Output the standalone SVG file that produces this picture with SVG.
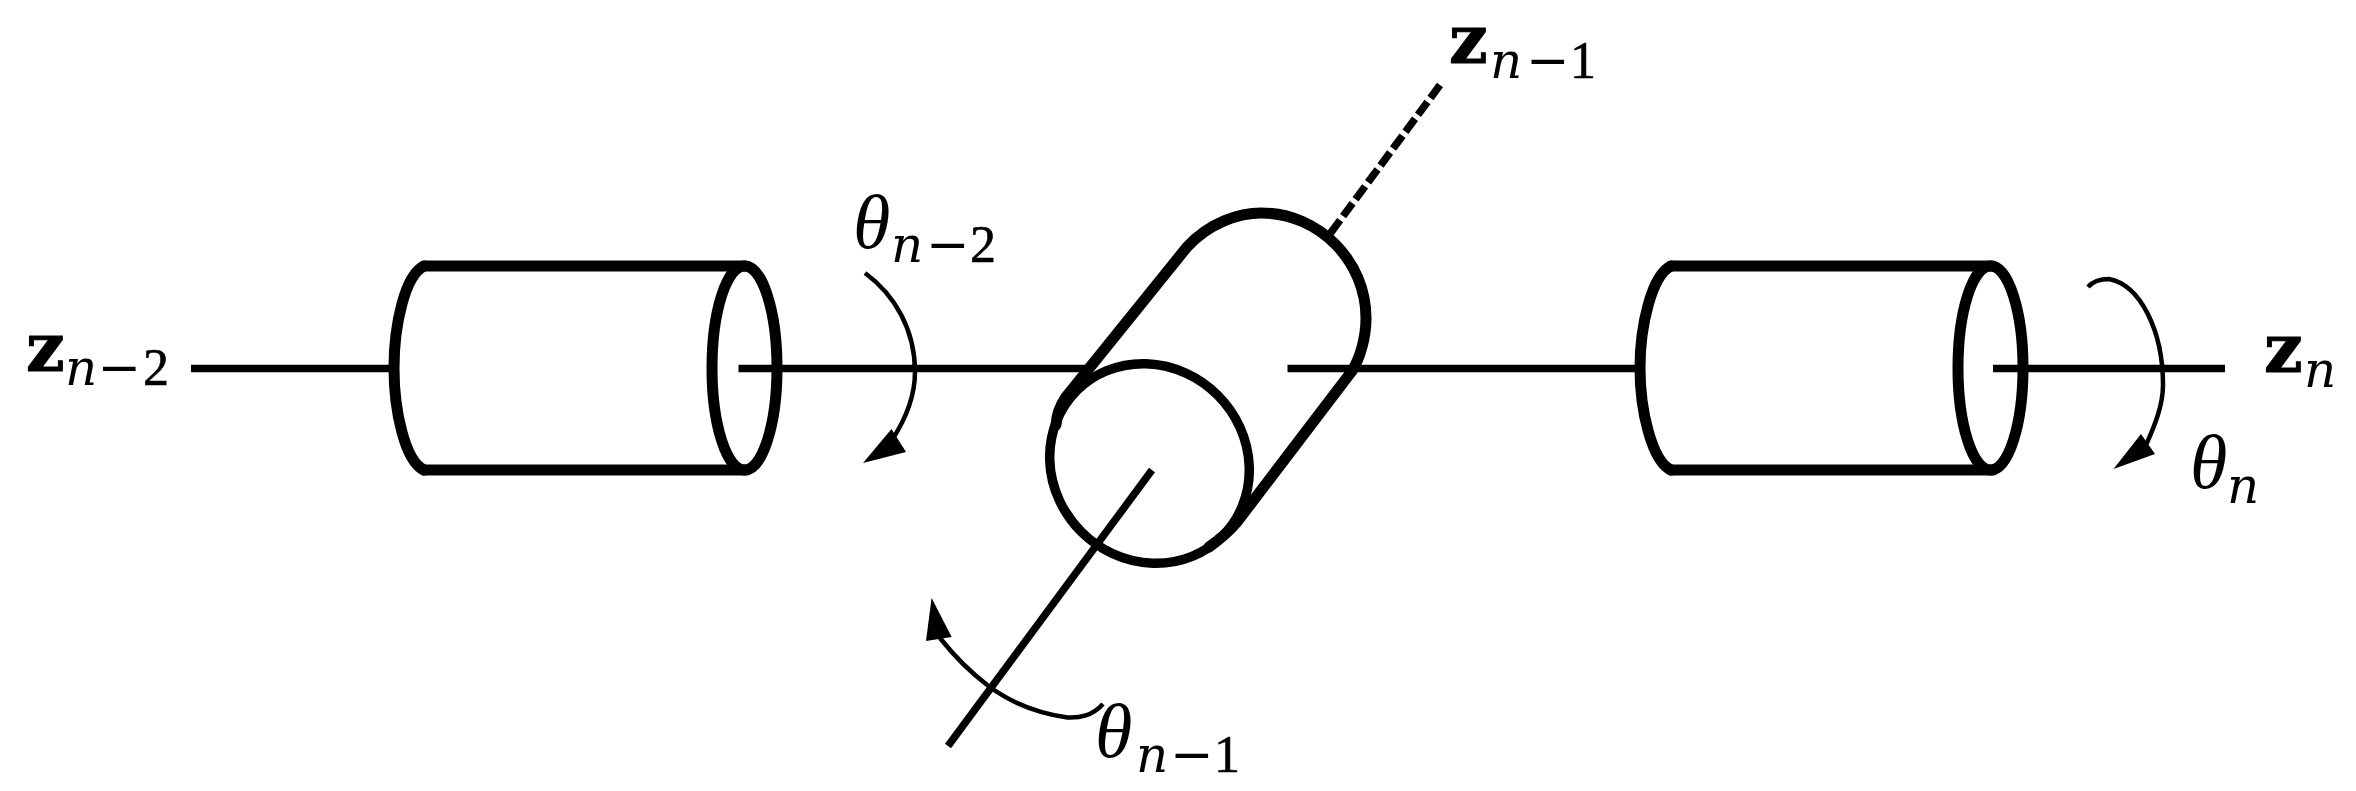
<svg xmlns="http://www.w3.org/2000/svg" width="2356" height="791" viewBox="0 0 2356 791">
<style>
.body{fill:none;stroke:#000;stroke-width:11;stroke-linejoin:round;stroke-linecap:round}
.thin{stroke-width:9.5}
.axis{fill:none;stroke:#000;stroke-width:7.5}
.rot{fill:none;stroke:#000;stroke-width:4.5}
.head{fill:#000;stroke:none}
text{fill:#000;font-family:"Liberation Serif","DejaVu Serif",serif}
.b{font-family:"DejaVu Serif","Liberation Serif",serif;font-weight:bold;font-size:68px;stroke:#000;stroke-width:1}
.t{font-style:italic;font-size:76px}
.n{font-family:"DejaVu Serif","Liberation Serif",serif;font-style:italic;font-size:50px}
.m{font-family:"DejaVu Serif","Liberation Serif",serif;font-size:52px}
.d{font-size:52px;stroke:#000;stroke-width:.6}
</style>
<rect width="2356" height="791" fill="#fff"/>
<g id="connectors">
<path class="axis" d="M191,368.5H394"/>
<path class="axis" d="M738.5,368.5H1091"/>
<path class="axis" d="M1287.5,368.5H1637"/>
<path class="axis" d="M1993,368.5H2225"/>
<path class="axis" d="M1152,470L948,746"/>
<path class="axis" d="M1330.6,233L1440,85" stroke-dasharray="16 5"/>
<path class="rot" d="M865,273C895,295 915,330 915,372C915,395 905,420 892,440"/>
<path class="head" d="M863,463L891.5,429L906,452Z"/>
<path class="rot" d="M2088,287C2094,280 2102,279 2109,279C2140,285 2163,330 2163,385C2163,405 2155,425 2146,445"/>
<path class="head" d="M2113.5,469L2141,434L2155,454Z"/>
<path class="rot" d="M1103,704C1092,716 1080,718 1067.5,717.5C1035,713 1010,702 988.5,686C970,672 955,657 940,638"/>
<path class="head" d="M931.6,598L926,641L951.7,637Z"/>
</g>
<g id="cylinder-left">
<path class="body" d="M424,266C405,275 394,325 394,368C394,411 405,461 424,470"/>
<path class="body" d="M424,266H746M424,470H746"/>
<ellipse class="body" cx="744.5" cy="368" rx="32.5" ry="102"/>
</g>
<g id="cylinder-center">
<path class="body" d="M1056,425Q1057,410 1066,397L1187,247C1210,222 1240,213 1261,213C1320,213 1366,262 1366,318C1366,338 1360,358 1352,371L1237,522Q1226,535 1209,547"/>
<ellipse class="body thin" cx="1149.5" cy="463.5" rx="103" ry="96.5" transform="rotate(45 1149.5 463.5)"/>
</g>
<g id="cylinder-right">
<path class="body" d="M1671,266C1652,275 1640,325 1640,368C1640,411 1652,461 1671,470"/>
<path class="body" d="M1671,266H1993M1671,470H1993"/>
<ellipse class="body" cx="1990.5" cy="368" rx="32.5" ry="102"/>
</g>
<g id="label-z-n-2"><text x="26" y="371" class="b">z</text><text x="65" y="385" class="n">n</text><text x="97.5" y="385" class="m">−</text><text x="143" y="385" class="d">2</text></g>
<g id="label-z-n-1"><text x="1449" y="63" class="b">z</text><text x="1490" y="78" class="n">n</text><text x="1526" y="78" class="m">−</text><text x="1570" y="78" class="d">1</text></g>
<g id="label-z-n"><text x="2264" y="372" class="b">z</text><text x="2304" y="387" class="n">n</text></g>
<g id="label-theta-n-2"><text x="853" y="248" class="t">θ</text><text x="891" y="262" class="n">n</text><text x="926" y="262" class="m">−</text><text x="970" y="262" class="d">2</text></g>
<g id="label-theta-n-1"><text x="1095" y="757" class="t">θ</text><text x="1136" y="772" class="n">n</text><text x="1170" y="772" class="m">−</text><text x="1214" y="772" class="d">1</text></g>
<g id="label-theta-n"><text x="2190" y="488" class="t">θ</text><text x="2227" y="503" class="n">n</text></g>
</svg>
